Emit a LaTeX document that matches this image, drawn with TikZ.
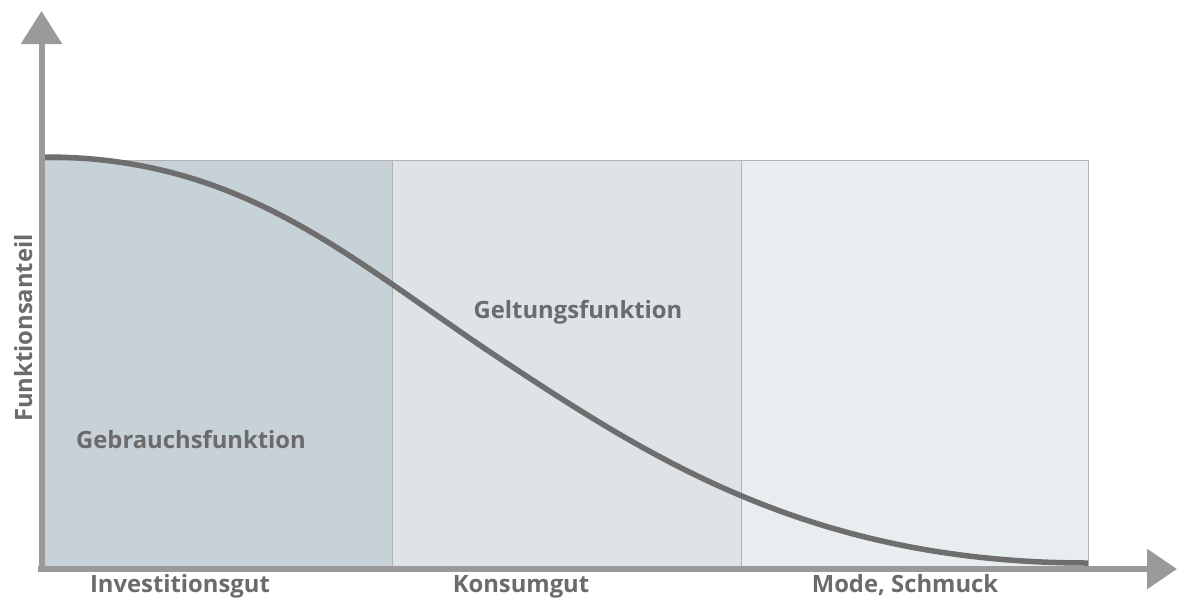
\documentclass[tikz,border=0pt]{standalone}
\usepackage{fontspec}
\setmainfont{Open Sans}
\usetikzlibrary{arrows.meta}
\definecolor{axisgray}{HTML}{9A9A9A}
\definecolor{curvegray}{HTML}{6E6E6E}
\definecolor{textgray}{HTML}{6B6B6B}
\definecolor{edgegray}{HTML}{B2B2B2}
\definecolor{fillA}{HTML}{C6D1D8}
\definecolor{fillB}{HTML}{DDE3E7}
\definecolor{fillC}{HTML}{E8EDF0}
\tikzset{
  panel/.style={draw=edgegray, line width=1pt},
  axisline/.style={draw=axisgray, line width=6pt},
  lbl/.style={text=textgray, font=\fontsize{23.8}{26}\selectfont\bfseries, inner sep=0pt},
  curve/.style={draw=curvegray, line width=5.5pt, line join=round}
}
\begin{document}
\begin{tikzpicture}[x=1pt,y=-1pt]
\useasboundingbox (0,0) rectangle (1177,597);
% three stages as shaded panels
\draw[panel, fill=fillA] (44,160) rectangle (392,566);
\draw[panel, fill=fillB] (392,160) rectangle (741,566);
\draw[panel, fill=fillC] (741,160) rectangle (1088,566);
% falling share of the use function
\coordinate (cstart) at (45,157);
\coordinate (cmid) at (502,360);
\coordinate (cend) at (1088,563);
\draw[curve] (cstart) .. controls (245,157) and (352,261) .. (cmid)
                      .. controls (652,459) and (813,563) .. (cend);
% axes
\coordinate (origin) at (41.5,572);
\coordinate (ytop) at (41.5,11);
\coordinate (xleft) at (38,569);
\coordinate (xright) at (1177,569);
\draw[axisline, -{Triangle[width=40pt,length=33pt]}, axisgray] (origin) -- (ytop);
\draw[axisline, -{Triangle[width=39pt,length=30pt]}, axisgray] (xleft) -- (xright);
% labels
\node[lbl, anchor=base] (gebrauch) at (191,448) {Gebrauchsfunktion};
\node[lbl, anchor=base] (geltung) at (578,318) {Geltungsfunktion};
\node[lbl, anchor=base] (invest) at (180,592) {Investitionsgut};
\node[lbl, anchor=base] (konsum) at (521,592) {Konsumgut};
\node[lbl, anchor=base] (mode) at (905,592) {Mode, Schmuck};
\node[lbl, anchor=base, rotate=90] (yaxis) at (32,328) {Funktionsanteil};
\end{tikzpicture}
\end{document}
